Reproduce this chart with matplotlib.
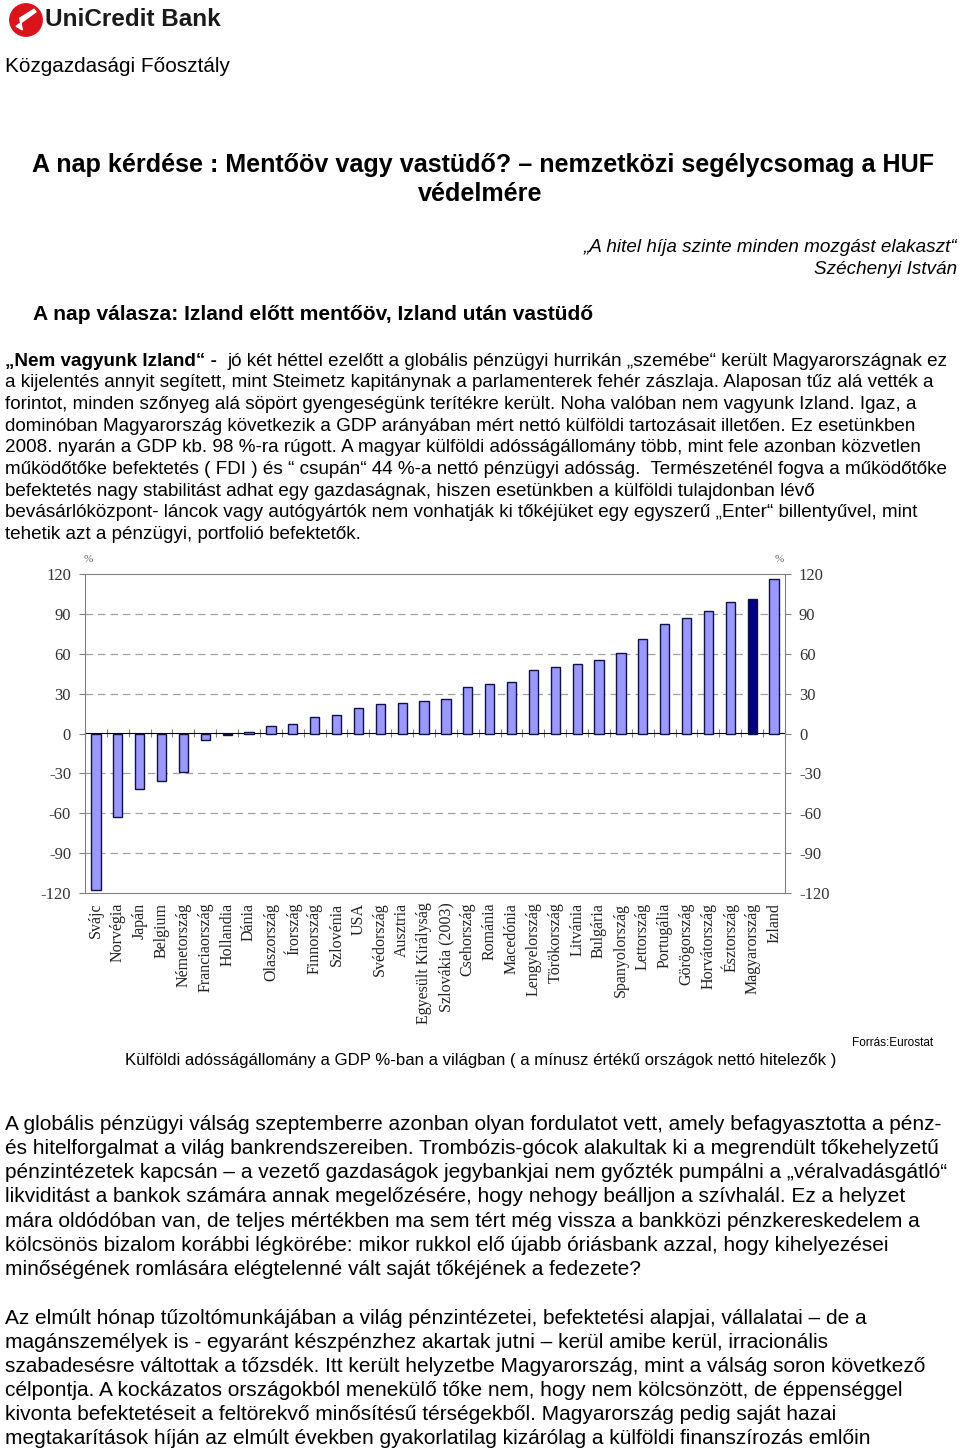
import numpy as np
import matplotlib
matplotlib.use("Agg")
import matplotlib.pyplot as plt
from matplotlib.patches import Circle, Polygon

W, H = 960, 1452

countries = [
    "Svájc", "Norvégia", "Japán", "Belgium", "Németország", "Franciaország",
    "Hollandia", "Dánia", "Olaszország", "Írország", "Finnország", "Szlovénia",
    "USA", "Svédország", "Ausztria", "Egyesült Királyság", "Szlovákia (2003)",
    "Csehország", "Románia", "Macedónia", "Lengyelország", "Törökország",
    "Litvánia", "Bulgária", "Spanyolország", "Lettország", "Portugália",
    "Görögország", "Horvátország", "Észtország", "Magyarország", "Izland",
]
debt_pct_gdp = [
    -118, -63, -41.5, -35.5, -29, -5, -1, 0.8, 5.5, 7, 12.5, 13.7,
    19, 22, 23.3, 24.8, 26.2, 34.7, 37, 39, 47.7, 50.2, 52, 55.2,
    60.8, 71.3, 82.6, 87.1, 92.1, 98.9, 100.9, 116,
]
highlight = "Magyarország"
yticks = [-120, -90, -60, -30, 0, 30, 60, 90, 120]

title_line1 = "A nap kérdése : Mentőöv vagy vastüdő? – nemzetközi segélycsomag a HUF"
title_line2 = "védelmére"
quote_lines = ["„A hitel híja szinte minden mozgást elakaszt“", "Széchenyi István"]
answer = "A nap válasza: Izland előtt mentőöv, Izland után vastüdő"

para1_bold = "„Nem vagyunk Izland“ -  "
para1 = [
    "jó két héttel ezelőtt a globális pénzügyi hurrikán „szemébe“ került Magyarországnak ez",
    "a kijelentés annyit segített, mint Steimetz kapitánynak a parlamenterek fehér zászlaja. Alaposan tűz alá vették a",
    "forintot, minden szőnyeg alá söpört gyengeségünk terítékre került. Noha valóban nem vagyunk Izland. Igaz, a",
    "dominóban Magyarország következik a GDP arányában mért nettó külföldi tartozásait illetően. Ez esetünkben",
    "2008. nyarán a GDP kb. 98 %-ra rúgott. A magyar külföldi adósságállomány több, mint fele azonban közvetlen",
    "működőtőke befektetés ( FDI ) és “ csupán“ 44 %-a nettó pénzügyi adósság.  Természeténél fogva a működőtőke",
    "befektetés nagy stabilitást adhat egy gazdaságnak, hiszen esetünkben a külföldi tulajdonban lévő",
    "bevásárlóközpont- láncok vagy autógyártók nem vonhatják ki tőkéjüket egy egyszerű „Enter“ billentyűvel, mint",
    "tehetik azt a pénzügyi, portfolió befektetők.",
]
para2 = [
    "A globális pénzügyi válság szeptemberre azonban olyan fordulatot vett, amely befagyasztotta a pénz-",
    "és hitelforgalmat a világ bankrendszereiben. Trombózis-gócok alakultak ki a megrendült tőkehelyzetű",
    "pénzintézetek kapcsán – a vezető gazdaságok jegybankjai nem győzték pumpálni a „véralvadásgátló“",
    "likviditást a bankok számára annak megelőzésére, hogy nehogy beálljon a szívhalál. Ez a helyzet",
    "mára oldódóban van, de teljes mértékben ma sem tért még vissza a bankközi pénzkereskedelem a",
    "kölcsönös bizalom korábbi légkörébe: mikor rukkol elő újabb óriásbank azzal, hogy kihelyezései",
    "minőségének romlására elégtelenné vált saját tőkéjének a fedezete?",
]
para3 = [
    "Az elmúlt hónap tűzoltómunkájában a világ pénzintézetei, befektetési alapjai, vállalatai – de a",
    "magánszemélyek is - egyaránt készpénzhez akartak jutni – kerül amibe kerül, irracionális",
    "szabadesésre váltottak a tőzsdék. Itt került helyzetbe Magyarország, mint a válság soron következő",
    "célpontja. A kockázatos országokból menekülő tőke nem, hogy nem kölcsönzött, de éppenséggel",
    "kivonta befektetéseit a feltörekvő minősítésű térségekből. Magyarország pedig saját hazai",
    "megtakarítások híján az elmúlt években gyakorlatilag kizárólag a külföldi finanszírozás emlőin",
]
caption = "Külföldi adósságállomány a GDP %-ban a világban ( a mínusz értékű országok nettó hitelezők )"
source = "Forrás:Eurostat"

SANS = ["Liberation Sans Narrow", "Liberation Sans", "DejaVu Sans"]
SERIF = ["Liberation Serif", "DejaVu Serif"]

fig = plt.figure(figsize=(W / 100, H / 100), dpi=100)
fig.patch.set_facecolor("white")
renderer = fig.canvas.get_renderer()


def put(x, y, s, **kw):
    kw.setdefault("family", SANS)
    kw.setdefault("va", "center")
    return fig.text(x / W, 1 - y / H, s, **kw)


def width_of(t):
    return t.get_window_extent(renderer=renderer).width


def fit(texts, ref, target):
    """Scale a block of lines so that the reference line has the target width."""
    scale = target / width_of(texts[ref])
    for t in texts:
        t.set_fontsize(t.get_fontsize() * scale)


def block(lines, x, y0, dy, size, **kw):
    return [put(x, y0 + i * dy, s, fontsize=size, **kw) for i, s in enumerate(lines)]


# logo
lax = fig.add_axes([8 / W, 1 - 38 / H, 36 / W, 36 / H])
lax.set_xlim(-1, 1)
lax.set_ylim(-1, 1)
lax.set_aspect("equal")
lax.axis("off")
lax.add_patch(Circle((0, 0), 0.9, color="#d9141b"))
lax.add_patch(Polygon([[-0.55, -0.35], [0.55, 0.45], [0.45, 0.6], [-0.35, 0.1], [-0.2, -0.55]],
                      closed=True, color="white"))
logo = put(45, 19, "UniCredit Bank", fontsize=22, weight="bold", color="#1a1a1a")
fit([logo], 0, 175)

dept = put(5, 66, "Közgazdasági Főosztály", fontsize=15)
fit([dept], 0, 226)

t1 = put(32, 165, title_line1, fontsize=18, weight="bold")
fit([t1], 0, 905)
put(480, 194, title_line2, fontsize=t1.get_fontsize(), weight="bold", ha="center")

q = [put(957, 248, quote_lines[0], fontsize=14, style="italic", ha="right"),
     put(957, 270, quote_lines[1], fontsize=14, style="italic", ha="right")]
fit(q, 0, 373)

ans = put(33, 315, answer, fontsize=15, weight="bold")
fit([ans], 0, 562)

# first paragraph, the opening words are bold
p1 = block(para1, 5, 361, 21.7, 13)
fit(p1, 1, 933)
bold = put(5, 361, para1_bold, fontsize=p1[0].get_fontsize(), weight="bold")
p1[0].set_x((5 + width_of(bold)) / W)

p2 = block(para2, 5, 1124, 24.3, 15)
fit(p2, 0, 941)
p3 = block(para3, 5, 1318, 24.2, 15)
fit(p3, 0, 863)
for t in p3:
    t.set_fontsize(p2[0].get_fontsize())

cap = put(125, 1060, caption, fontsize=12)
fit([cap], 0, 710)
put(933, 1043, source, fontsize=8.5, ha="right")

# chart
ax = fig.add_axes([85 / W, 1 - 893 / H, 700 / W, 319 / H])
x = np.arange(len(countries))
colors = ["#000080" if c == highlight else "#9999ff" for c in countries]
ax.bar(x, debt_pct_gdp, width=0.42, color=colors, edgecolor="#111144", linewidth=1.0, zorder=3)
ax.set_xlim(-0.5, len(countries) - 0.5)
ax.set_ylim(yticks[0], yticks[-1])
ax.set_yticks(yticks)
ax.set_yticklabels([str(v) for v in yticks])
for v in yticks[1:-1]:
    if v != 0:
        ax.axhline(v, color="#a0a0a0", lw=0.9, ls=(0, (6, 4)), zorder=1)
ax.tick_params(axis="y", which="both", left=True, right=True, labelleft=True, labelright=True,
               length=4, color="#808080", labelcolor="#333333", labelsize=12, pad=6)
for lab in ax.get_yticklabels():
    lab.set_family(SERIF)
ax.set_xticks(x)
ax.set_xticklabels(countries, rotation=90, family=SERIF, fontsize=11.5, color="#222222")
ax.tick_params(axis="x", length=0, pad=7)
for sp in ax.spines.values():
    sp.set_color("#808080")

zero = ax.secondary_xaxis(0.5)
zero.set_xticks(np.arange(len(countries) + 1) - 0.5)
zero.tick_params(length=6, direction="inout", color="#808080", labelbottom=False)
zero.set_xticklabels([])
zero.spines["bottom"].set_color("#808080")

fig.text(88 / W, 1 - 560 / H, "%", family=SERIF, fontsize=8, color="#666666", ha="center", va="center")
fig.text(779 / W, 1 - 560 / H, "%", family=SERIF, fontsize=8, color="#666666", ha="center", va="center")

fig.savefig("out.png", dpi=100)
